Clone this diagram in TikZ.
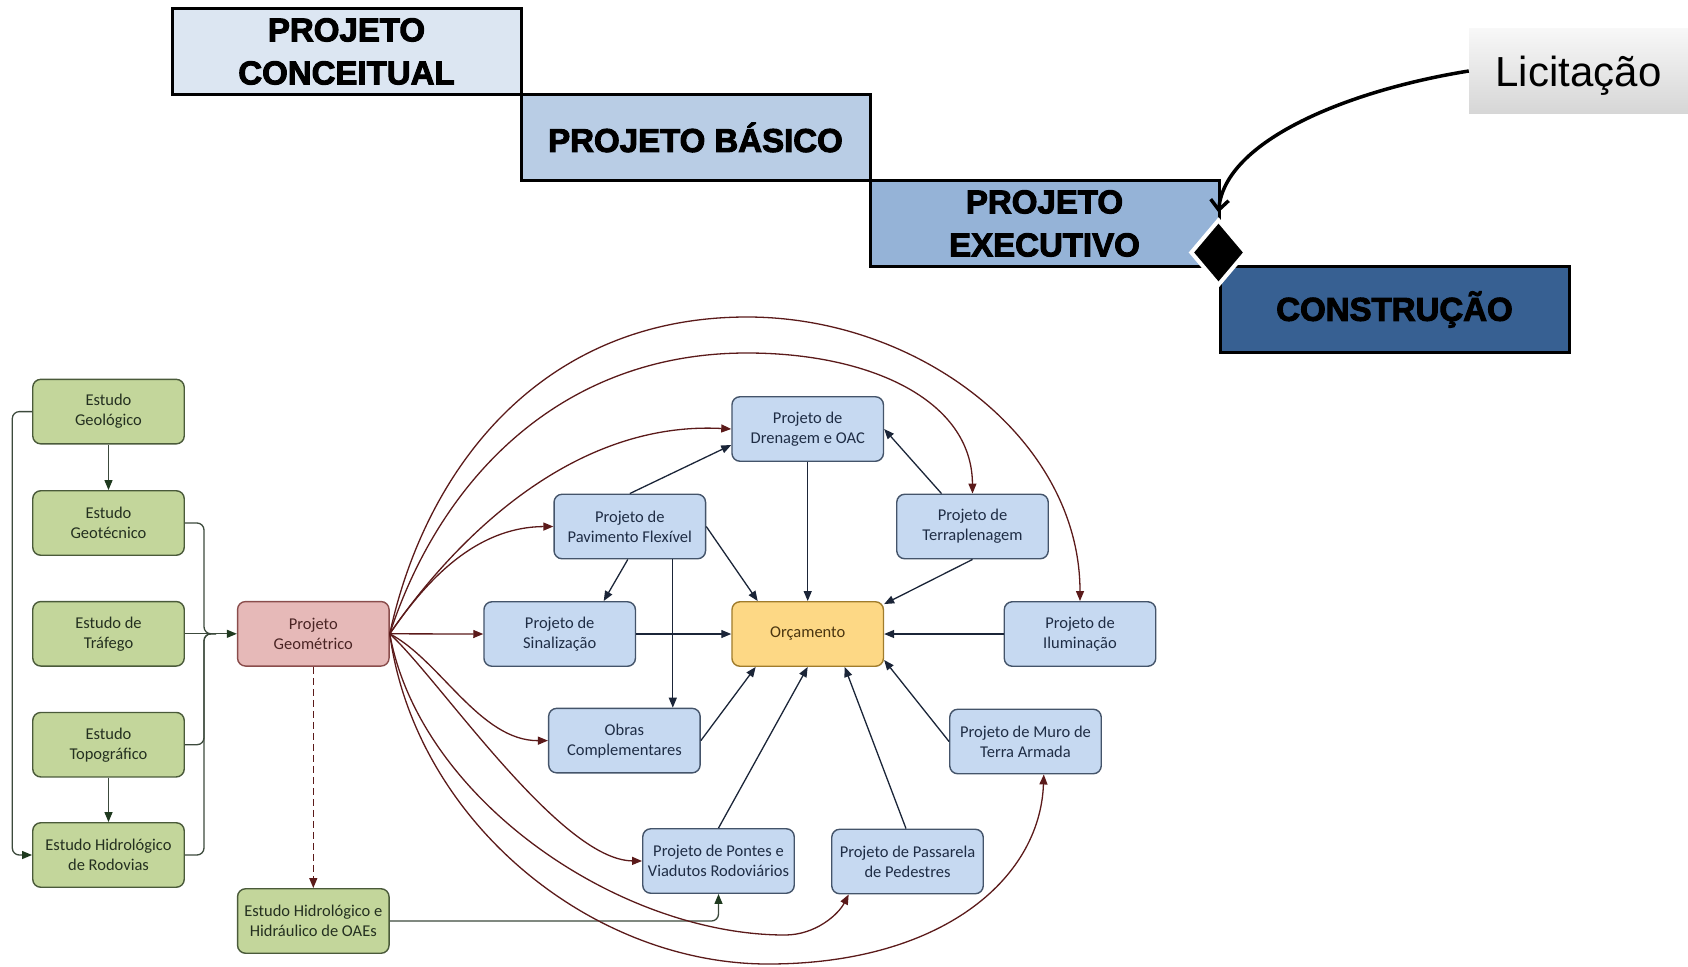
\documentclass[tikz,border=0pt]{standalone}
\usepackage{fontspec}
\setmainfont{Carlito}
\newfontfamily\heavyfont{Liberation Sans}[BoldFeatures={FakeBold=3}]
\newfontfamily\arialfont{Liberation Sans}
\usetikzlibrary{arrows.meta,calc,shapes.geometric}

\definecolor{stA}{HTML}{DCE6F2}
\definecolor{stB}{HTML}{B9CDE5}
\definecolor{stC}{HTML}{95B3D7}
\definecolor{stD}{HTML}{376092}
\definecolor{gfill}{HTML}{C3D69B}
\definecolor{gdraw}{HTML}{4A5A3A}
\definecolor{gtext}{HTML}{243020}
\definecolor{pfill}{HTML}{E6B9B8}
\definecolor{pdraw}{HTML}{8A4D4C}
\definecolor{ptext}{HTML}{4A2424}
\definecolor{bfill}{HTML}{C6D9F1}
\definecolor{bdraw}{HTML}{44546A}
\definecolor{btext}{HTML}{1F2D45}
\definecolor{ofill}{HTML}{FDD885}
\definecolor{odraw}{HTML}{A07C2C}
\definecolor{otext}{HTML}{4A3510}
\definecolor{rcol}{HTML}{5B1A1A}
\definecolor{ncol}{HTML}{1B2538}
\definecolor{glin}{HTML}{3C4A3C}
\definecolor{garr}{HTML}{1F3A1F}

\begin{document}
\begin{tikzpicture}[x=1pt,y=-1pt,
  stage/.style={draw=black, line width=3pt, minimum width=349pt, minimum height=86pt,
    inner sep=0pt, align=center, font=\heavyfont\bfseries\fontsize{33}{43}\selectfont},
  box/.style={rounded corners=8pt, line width=1.4pt, minimum width=151.5pt,
    minimum height=64.5pt, inner sep=0pt, align=center, font=\fontsize{16.5}{20}\selectfont},
  gbox/.style={box, fill=gfill, draw=gdraw, text=gtext},
  pbox/.style={box, fill=pfill, draw=pdraw, text=ptext},
  bbox/.style={box, fill=bfill, draw=bdraw, text=btext},
  obox/.style={box, fill=ofill, draw=odraw, text=otext},
  tip/.style={-{Triangle[length=10pt,width=8pt]}},
  rline/.style={draw=rcol, line width=1.3pt, tip},
  nline/.style={draw=ncol, line width=1.3pt, tip},
  gline/.style={draw=glin, line width=1.3pt},
  garrow/.style={gline, -{Triangle[length=10pt,width=8pt,color=garr]}}
]
\useasboundingbox (0,0) rectangle (1688,966);

% ---- project phases ----
\node[stage, fill=stA] (conc) at (346.5,51.5) {PROJETO\\CONCEITUAL};
\node[stage, fill=stB] (basi) at (695.5,137.5) {PROJETO BÁSICO};
\node[stage, fill=stC] (exec) at (1044.5,223.5) {PROJETO\\EXECUTIVO};
\node[stage, fill=stD] (cons) at (1394.5,309.5) {CONSTRUÇÃO};
\node[diamond, fill=black, draw=white, line width=4pt, minimum width=56pt,
      minimum height=66pt, inner sep=0pt] (gate) at (1218.5,252.5) {};
\node[minimum width=219pt, minimum height=84pt, inner sep=0pt,
      text height=31pt, text depth=0pt,
      top color=gray!6, bottom color=gray!32] (lic) at (1578.5,71)
      {\arialfont\fontsize{42}{48}\selectfont Licitação};
\coordinate (gtop) at ($(gate.north)+(0,-5)$);
\draw[line width=3.5pt, -{Straight Barb[length=10pt,width=18pt]}]
  (lic.west) .. controls (1350,90) and (1225,140) .. (gtop);

% ---- studies ----
\node[gbox] (geol) at (108.5,411.6) {Estudo\\Geológico};
\node[gbox] (geot) at (108.5,523) {Estudo\\Geotécnico};
\node[gbox] (traf) at (108.5,633.8) {Estudo de\\Tráfego};
\node[gbox] (topo) at (108.5,744.7) {Estudo\\Topográfico};
\node[gbox] (hidr) at (108.5,855) {Estudo Hidrológico\\de Rodovias};
\node[pbox] (geom) at (313.3,633.8) {Projeto\\Geométrico};
\node[gbox] (oaes) at (313.3,921) {Estudo Hidrológico e\\Hidráulico de OAEs};

% ---- projects ----
\node[bbox] (dren) at (807.7,429) {Projeto de\\Drenagem e OAC};
\node[bbox] (pav)  at (629.8,526.5) {Projeto de\\Pavimento Flexível};
\node[bbox] (ter)  at (972.5,526.5) {Projeto de\\Terraplenagem};
\node[bbox] (sin)  at (559.7,634) {Projeto de\\Sinalização};
\node[obox] (orc)  at (807.7,634) {Orçamento};
\node[bbox] (ilu)  at (1080,634) {Projeto de\\Iluminação};
\node[bbox] (obr)  at (624.4,740.6) {Obras\\Complementares};
\node[bbox] (muro) at (1025.5,741.5) {Projeto de Muro de\\Terra Armada};
\node[bbox] (pon)  at (718.5,861) {Projeto de Pontes e\\Viadutos Rodoviários};
\node[bbox] (pas)  at (907.5,861.5) {Projeto de Passarela\\de Pedestres};

% ---- study links ----
\coordinate (bus) at (204,633.8);
\draw[garrow] (geol) -- (geot);
\draw[garrow] (topo) -- (hidr);
\draw[garrow, rounded corners=7pt] (geol.west) -- (12.3,411.6) -- (12.3,855) -- (hidr.west);
\draw[gline, rounded corners=7pt] (geot.east) -- (geot.east -| bus) -- (bus) -- ++(12,0);
\draw[gline, rounded corners=7pt] (topo.east) -- (topo.east -| bus) -- (bus) -- ++(12,0);
\draw[gline, rounded corners=7pt] (hidr.east) -- (hidr.east -| bus) -- (bus) -- ++(12,0);
\draw[garrow] (traf.east) -- (geom.west);
\draw[rline, dashed, dash pattern=on 7pt off 4pt] (geom.south) -- (oaes.north);
\draw[garrow, rounded corners=7pt] (oaes.east) -- (oaes.east -| pon.south) -- (pon.south);

% ---- links from the geometric design ----
\draw[rline] (geom.east) -- (sin.west);
\draw[rline] (geom.east) .. controls (420,590) and (470,527) .. (pav.west);
\draw[rline] (geom.east) .. controls (440,560) and (560,420) .. (dren.west);
\draw[rline] (geom.east) .. controls (440,480) and (560,353) .. (747,353)
  .. controls (870,353) and (972,400) .. (ter.north);
\draw[rline] (geom.east) .. controls (425,470) and (540,317) .. (747,317)
  .. controls (920,317) and (1080,440) .. (ilu.north);
\draw[rline] (geom.east) .. controls (440,660) and (480,741) .. (obr.west);
\draw[rline] (geom.east) .. controls (440,680) and (560,860) .. (pon.west);
\coordinate (pasin) at ($(pas.south)+(-58.8,0)$);
\draw[rline] (geom.east) .. controls (420,800) and (620,935) .. (785,935)
  .. controls (815,935) and (838,915) .. (pasin);
\coordinate (muroin) at ($(muro.south)+(18.3,0)$);
\draw[rline] (geom.east) .. controls (415,820) and (590,964) .. (768,964)
  .. controls (940,964) and (1040,880) .. (muroin);

% ---- links into the budget ----
\coordinate (pvo) at ($(pav.south)+(43,0)$);
\draw[nline] (pav.north) -- ($(dren.west)+(0,16)$);
\draw[nline] ($(ter.north)+(-31,0)$) -- (dren.east);
\draw[nline] (dren.south) -- (orc.north);
\draw[nline] (pav.east) -- ($(orc.north)+(-50,0)$);
\draw[nline] ($(pav.south)+(-2,0)$) -- ($(sin.north)+(44,0)$);
\draw[nline] (pvo) -- (pvo |- obr.north);
\draw[nline] (sin.east) -- (orc.west);
\draw[nline] (ter.south) -- ($(orc.north east)+(0,3)$);
\draw[nline] (ilu.west) -- (orc.east);
\draw[nline] (obr.east) -- ($(orc.south)+(-52,0)$);
\draw[nline] (pon.north) -- (orc.south);
\draw[nline] ($(pas.north)+(-1.5,0)$) -- ($(orc.south)+(37,0)$);
\draw[nline] (muro.west) -- ($(orc.east)+(0,26)$);
\end{tikzpicture}
\end{document}
